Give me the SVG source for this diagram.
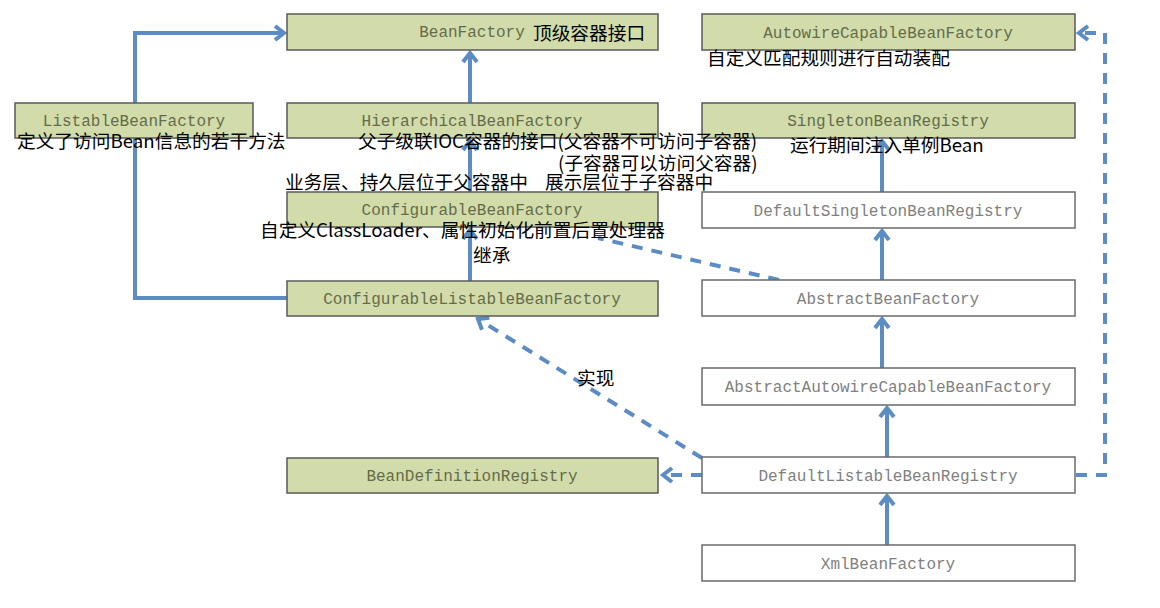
<svg xmlns="http://www.w3.org/2000/svg" width="1160" height="608" viewBox="0 0 1160 608">
<style>
.g rect{fill:#D2DCAA;stroke:#5a5a5a;stroke-width:1.5}
.w rect{fill:#ffffff;stroke:#6a6a6a;stroke-width:1.5}
.g text,.w text{font-family:"Liberation Mono",monospace;font-size:16px;text-anchor:middle;dominant-baseline:central}
.g text{fill:#646B4A}
.w text{fill:#808080}
.c{fill:none;stroke:#5B8CC4;stroke-width:4}
.d{stroke-dasharray:11 9}
.n{font-family:"Noto Sans CJK SC",sans-serif;font-size:18.7px;fill:#000}
</style>
<defs>
<marker id="ah" markerUnits="userSpaceOnUse" viewBox="-14 -10 16 20" refX="0" refY="0" markerWidth="16" markerHeight="20" orient="auto" overflow="visible">
<path d="M-9,-7 L0,0 L-9,7" fill="none" stroke="#5B8CC4" stroke-width="4" stroke-dasharray="none" stroke-linejoin="miter"/>
</marker>
</defs>
<rect width="1160" height="608" fill="#fff"/>
<g id="connectors">
<path class="c" d="M135,103 V33 H284" marker-end="url(#ah)"/>
<path class="c" d="M135,138 V298 H287"/>
<path class="c" d="M470,103 V53" marker-end="url(#ah)"/>
<path class="c" d="M470,192 V141" marker-end="url(#ah)"/>
<path class="c" d="M470,281 V230" marker-end="url(#ah)"/>
<path class="c" d="M882,192 V141" marker-end="url(#ah)"/>
<path class="c" d="M882,280 V231" marker-end="url(#ah)"/>
<path class="c" d="M882,368 V319" marker-end="url(#ah)"/>
<path class="c" d="M887,457 V408" marker-end="url(#ah)"/>
<path class="c" d="M887,545 V496" marker-end="url(#ah)"/>
<path class="c d" d="M779,280 L598,238"/>
<path class="c d" d="M702,458 L478,319" marker-end="url(#ah)"/>
<path class="c d" d="M702,475 H663" marker-end="url(#ah)"/>
<path class="c d" d="M1076,475 H1105 V33 H1079" marker-end="url(#ah)"/>
</g>
<g id="BeanFactory" class="g"><rect x="287" y="14" width="371" height="36"/><text x="472" y="33">BeanFactory</text></g>
<g id="ListableBeanFactory" class="g"><rect x="15" y="103" width="238" height="35"/><text x="134" y="122">ListableBeanFactory</text></g>
<g id="HierarchicalBeanFactory" class="g"><rect x="287" y="103" width="371" height="35"/><text x="472" y="122">HierarchicalBeanFactory</text></g>
<g id="ConfigurableBeanFactory" class="g"><rect x="287" y="192" width="371" height="35"/><text x="472" y="211">ConfigurableBeanFactory</text></g>
<g id="ConfigurableListableBeanFactory" class="g"><rect x="287" y="281" width="371" height="35"/><text x="472" y="300">ConfigurableListableBeanFactory</text></g>
<g id="BeanDefinitionRegistry" class="g"><rect x="287" y="458" width="371" height="35"/><text x="472" y="477">BeanDefinitionRegistry</text></g>
<g id="AutowireCapableBeanFactory" class="g"><rect x="702" y="14" width="373" height="36"/><text x="888" y="34">AutowireCapableBeanFactory</text></g>
<g id="SingletonBeanRegistry" class="g"><rect x="702" y="103" width="373" height="35"/><text x="888" y="122">SingletonBeanRegistry</text></g>
<g id="DefaultSingletonBeanRegistry" class="w"><rect x="702" y="192" width="373" height="36"/><text x="888" y="212">DefaultSingletonBeanRegistry</text></g>
<g id="AbstractBeanFactory" class="w"><rect x="702" y="280" width="373" height="36"/><text x="888" y="300">AbstractBeanFactory</text></g>
<g id="AbstractAutowireCapableBeanFactory" class="w"><rect x="702" y="368" width="373" height="37"/><text x="888" y="388">AbstractAutowireCapableBeanFactory</text></g>
<g id="DefaultListableBeanRegistry" class="w"><rect x="702" y="457" width="373" height="36"/><text x="888" y="477">DefaultListableBeanRegistry</text></g>
<g id="XmlBeanFactory" class="w"><rect x="702" y="545" width="373" height="36"/><text x="888" y="565">XmlBeanFactory</text></g>
<g id="labels">
<text class="n" x="533" y="40">顶级容器接口</text>
<text class="n" x="707" y="65">自定义匹配规则进行自动装配</text>
<text class="n" x="17" y="148">定义了访问Bean信息的若干方法</text>
<text class="n" x="358" y="148">父子级联IOC容器的接口(父容器不可访问子容器)</text>
<text class="n" x="790" y="152">运行期间注入单例Bean</text>
<text class="n" x="558" y="170">(子容器可以访问父容器)</text>
<text class="n" x="285" y="189">业务层、持久层位于父容器中<tspan x="545">展示层位于子容器中</tspan></text>
<text class="n" x="260" y="237">自定义ClassLoader、属性初始化前置后置处理器</text>
<text class="n" x="473" y="262">继承</text>
<text class="n" x="577" y="385">实现</text>
</g>
</svg>
